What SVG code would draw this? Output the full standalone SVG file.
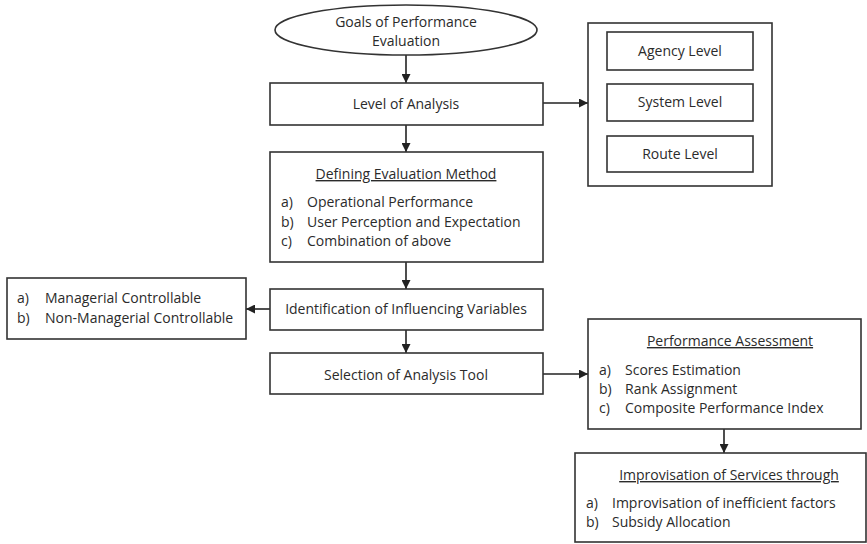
<svg xmlns="http://www.w3.org/2000/svg" width="867" height="544" viewBox="0 0 867 544">
<defs>
<style>
.box{fill:#fff;stroke:#333;stroke-width:1.6}
.t{font-family:"Open Sans","Liberation Sans",sans-serif;font-size:14px;fill:#2b2b2b}
.c{text-anchor:middle}
.u{text-decoration:underline}
.ln{stroke:#222;stroke-width:1.6;fill:none}
</style>
<marker id="ah" viewBox="0 0 10 10" refX="10" refY="5" markerWidth="9" markerHeight="9" markerUnits="userSpaceOnUse" orient="auto">
<path d="M0,0 L10,5 L0,10 z" fill="#222"/>
</marker>
</defs>
<rect width="867" height="544" fill="#fff"/>
<g id="connectors">
<line class="ln" x1="406" y1="55" x2="406" y2="83" marker-end="url(#ah)"/>
<line class="ln" x1="406" y1="125" x2="406" y2="152" marker-end="url(#ah)"/>
<line class="ln" x1="543" y1="103" x2="588" y2="103" marker-end="url(#ah)"/>
<line class="ln" x1="406" y1="262" x2="406" y2="289" marker-end="url(#ah)"/>
<line class="ln" x1="270" y1="309" x2="246" y2="309" marker-end="url(#ah)"/>
<line class="ln" x1="406" y1="330" x2="406" y2="353" marker-end="url(#ah)"/>
<line class="ln" x1="543" y1="374" x2="588" y2="374" marker-end="url(#ah)"/>
<line class="ln" x1="724" y1="429" x2="724" y2="453" marker-end="url(#ah)"/>
</g>
<g id="goals">
<ellipse class="box" cx="406" cy="30" rx="131" ry="25"/>
<text class="t c" x="406" y="27">Goals of Performance</text>
<text class="t c" x="406" y="46">Evaluation</text>
</g>
<g id="level-of-analysis">
<rect class="box" x="270" y="83" width="273" height="42"/>
<text class="t c" x="406" y="109">Level of Analysis</text>
</g>
<g id="levels">
<rect class="box" x="588" y="23" width="184" height="163"/>
<g id="agency-level">
<rect class="box" x="607" y="32" width="146" height="38"/>
<text class="t c" x="680" y="56">Agency Level</text>
</g>
<g id="system-level">
<rect class="box" x="607" y="84" width="146" height="37"/>
<text class="t c" x="680" y="107">System Level</text>
</g>
<g id="route-level">
<rect class="box" x="607" y="136" width="146" height="36"/>
<text class="t c" x="680" y="159">Route Level</text>
</g>
</g>
<g id="defining">
<rect class="box" x="270" y="152" width="273" height="110"/>
<text class="t c u" x="406" y="179">Defining Evaluation Method</text>
<text class="t" x="281" y="207">a)</text><text class="t" x="307" y="207">Operational Performance</text>
<text class="t" x="281" y="227">b)</text><text class="t" x="307" y="227">User Perception and Expectation</text>
<text class="t" x="281" y="246">c)</text><text class="t" x="307" y="246">Combination of above</text>
</g>
<g id="identification">
<rect class="box" x="270" y="289" width="273" height="41"/>
<text class="t c" x="406" y="314">Identification of Influencing Variables</text>
</g>
<g id="controllable">
<rect class="box" x="7" y="278" width="239" height="61"/>
<text class="t" x="17" y="303">a)</text><text class="t" x="45" y="303">Managerial Controllable</text>
<text class="t" x="17" y="323">b)</text><text class="t" x="45" y="323">Non-Managerial Controllable</text>
</g>
<g id="selection">
<rect class="box" x="270" y="353" width="273" height="41"/>
<text class="t c" x="406" y="380">Selection of Analysis Tool</text>
</g>
<g id="assessment">
<rect class="box" x="588" y="319" width="273" height="110"/>
<text class="t c u" x="730" y="346">Performance Assessment</text>
<text class="t" x="599" y="375">a)</text><text class="t" x="625" y="375">Scores Estimation</text>
<text class="t" x="599" y="394">b)</text><text class="t" x="625" y="394">Rank Assignment</text>
<text class="t" x="599" y="413">c)</text><text class="t" x="625" y="413">Composite Performance Index</text>
</g>
<g id="improvisation">
<rect class="box" x="575" y="453" width="291" height="89"/>
<text class="t c u" x="729" y="480">Improvisation of Services through</text>
<text class="t" x="586" y="508">a)</text><text class="t" x="612" y="508">Improvisation of inefficient factors</text>
<text class="t" x="586" y="527">b)</text><text class="t" x="612" y="527">Subsidy Allocation</text>
</g>
</svg>
